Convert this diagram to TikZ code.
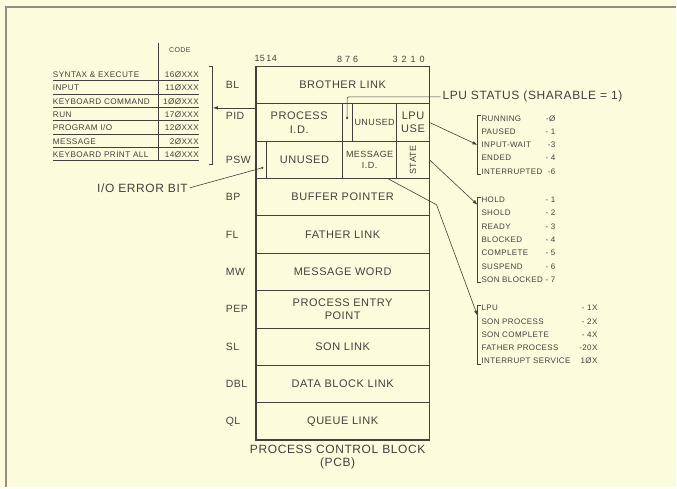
\documentclass[tikz,border=0pt]{standalone}
\usepackage{fontspec}
\setmainfont{Liberation Sans}[LetterSpace=5]
\usetikzlibrary{arrows.meta}

\definecolor{paper}{RGB}{252,252,221}
\definecolor{ink}{RGB}{70,62,60}
\definecolor{scanedge}{RGB}{150,140,128}

\begin{document}
\begin{tikzpicture}[
  x=1pt, y=-1pt,
  >={Latex[length=5pt,width=3.5pt]},
  every node/.style={text=ink, inner sep=0pt, outer sep=0pt},
  field/.style={draw=ink, line width=0.8pt, minimum width=174pt, minimum height=37.4pt, align=center, font=\fontsize{11}{13.4}\selectfont},
  cell/.style={draw=ink, line width=0.8pt, minimum height=37.4pt, align=center, font=\fontsize{11}{13.4}\selectfont},
  smallcell/.style={cell, font=\fontsize{9}{11.7}\selectfont},
  rowlabel/.style={anchor=west, font=\fontsize{10.5}{12}\selectfont},
  bits/.style={font=\fontsize{9}{10}\selectfont},
  tabrow/.style={text width=146pt, minimum height=12pt, align=left, font=\fontsize{8.2}{9}\selectfont},
  listbox/.style={anchor=west, align=left, font=\fontsize{8}{13.3}\selectfont},
  callout/.style={font=\fontsize{12}{13}\selectfont},
  dot/.style={circle, fill=ink, minimum size=2.6pt},
  rule/.style={draw=ink, line width=0.6pt},
  brace/.style={draw=ink, line width=1pt},
  arrow/.style={->, draw=ink, line width=0.6pt}
]

  % paper and scan edge
  \fill[paper] (0,0) rectangle (677,488);
  \draw[scanedge, line width=1.4pt] (6,488) -- (6,7) -- (677,7);

  % bit numbers
  \node[bits] (bitsleft)  at (266,59) {15\,14};
  \node[bits] (bitsmid)   at (348,59) {8\hspace{3pt}7\hspace{3pt}6};
  \node[bits] (bitsright) at (409,59) {3\hspace{4pt}2\hspace{4pt}1\hspace{4pt}0};

  % the control block
  \node[field] (brotherlink) at (343,85.2) {BROTHER LINK};

  \node[cell, minimum width=87pt]  (pidproc)   at (299.5,122.6) {PROCESS\\I.D.};
  \node[cell, minimum width=10pt]  (pidflag)   at (348,122.6)   {};
  \node[smallcell, minimum width=44pt] (pidunused) at (375,122.6) {UNUSED};
  \node[cell, minimum width=33pt]  (lpuuse)    at (413.5,122.6) {LPU\\USE};

  \node[cell, minimum width=10.5pt] (pswflag)   at (261.25,160) {};
  \node[cell, minimum width=76.5pt] (pswunused) at (304.75,160) {UNUSED};
  \node[smallcell, minimum width=54pt] (msgid)  at (370,160)    {MESSAGE\\I.D.};
  \node[smallcell, minimum width=33pt] (state)  at (413.5,160)  {\rotatebox{90}{STATE}};

  \node[field] (bufferptr)  at (343,197.4) {BUFFER POINTER};
  \node[field] (fatherlink) at (343,234.8) {FATHER LINK};
  \node[field] (msgword)    at (343,272.2) {MESSAGE WORD};
  \node[field] (entrypoint) at (343,309.6) {PROCESS ENTRY\\POINT};
  \node[field] (sonlink)    at (343,347)   {SON LINK};
  \node[field] (datablock)  at (343,384.4) {DATA BLOCK LINK};
  \node[field] (queuelink)  at (343,421.8) {QUEUE LINK};

  \draw[ink, line width=1.6pt] (brotherlink.north west) rectangle (queuelink.south east);

  \node[callout, align=center] (pcbcaption) at (338,458) {PROCESS CONTROL BLOCK\\(PCB)};

  % row names
  \node[rowlabel] (lblbl)  at (226,85.2)  {BL};
  \node[rowlabel] (lblpid) at (226,116)   {PID};
  \node[rowlabel] (lblpsw) at (226,160)   {PSW};
  \node[rowlabel] (lblbp)  at (226,197.4) {BP};
  \node[rowlabel] (lblfl)  at (226,234.8) {FL};
  \node[rowlabel] (lblmw)  at (226,272.2) {MW};
  \node[rowlabel] (lblpep) at (226,309.6) {PEP};
  \node[rowlabel] (lblsl)  at (226,347)   {SL};
  \node[rowlabel] (lbldbl) at (226,384.4) {DBL};
  \node[rowlabel] (lblql)  at (226,421.8) {QL};

  % flag bits
  \node[dot] (piddot) at (347.5,118) {};
  \node[dot] (pswdot) at (262.5,168) {};

  \node[callout, anchor=west, inner sep=2pt] (lpustatus) at (441,97) {LPU STATUS (SHARABLE = 1)};
  \node[callout, anchor=east, inner sep=2pt] (ioerror) at (190,188) {I/O ERROR BIT};

  \draw[rule, rounded corners=2pt] (piddot) |- (lpustatus.west);
  \draw[rule] (ioerror.east) -- (pswdot);

  % code table
  \node[font=\fontsize{7}{8}\selectfont] (codehead) at (180,50) {CODE};
  \node[tabrow] (synrow)  at (126,74.5)  {SYNTAX \& EXECUTE\hfill 16ØXXX};
  \node[tabrow] (inprow)  at (126,87.9)  {INPUT\hfill 11ØXXX};
  \node[tabrow] (kbcrow)  at (126,101.3) {KEYBOARD COMMAND\hfill 1ØØXXX};
  \node[tabrow] (runrow)  at (126,114.7) {RUN\hfill 17ØXXX};
  \node[tabrow] (progrow) at (126,128.1) {PROGRAM I/O\hfill 12ØXXX};
  \node[tabrow] (msgrow)  at (126,141.5) {MESSAGE\hfill 2ØXXX};
  \node[tabrow] (kbprow)  at (126,154.9) {KEYBOARD PRINT ALL\hfill 14ØXXX};

  \draw[rule] (synrow.south west)  -- (synrow.south east);
  \draw[rule] (inprow.south west)  -- (inprow.south east);
  \draw[rule] (kbcrow.south west)  -- (kbcrow.south east);
  \draw[rule] (runrow.south west)  -- (runrow.south east);
  \draw[rule] (progrow.south west) -- (progrow.south east);
  \draw[rule] (msgrow.south west)  -- (msgrow.south east);
  \draw[rule] (kbprow.south west)  -- (kbprow.south east);
  \draw[rule] (158,43) -- (158,161);

  \coordinate (codetop) at (213,67);
  \coordinate (codebot) at (213,165);
  \coordinate (codetip) at (213,108);
  \coordinate (pidtap)  at (256,108);
  \draw[brace] ([xshift=-4pt]codetop) -- (codetop) -- (codebot) -- ([xshift=-4pt]codebot);
  \draw[arrow] (pidtap) -- (codetip);

  % value lists
  \node[listbox] (lpulist) at (482,145) {%
    \makebox[74pt][l]{RUNNING\hfill -Ø}\\
    \makebox[74pt][l]{PAUSED\hfill - 1}\\
    \makebox[74pt][l]{INPUT-WAIT\hfill -3}\\
    \makebox[74pt][l]{ENDED\hfill - 4}\\
    \makebox[74pt][l]{INTERRUPTED\hfill -6}};
  \node[listbox] (statelist) at (482,240) {%
    \makebox[74pt][l]{HOLD\hfill - 1}\\
    \makebox[74pt][l]{SHOLD\hfill - 2}\\
    \makebox[74pt][l]{READY\hfill - 3}\\
    \makebox[74pt][l]{BLOCKED\hfill - 4}\\
    \makebox[74pt][l]{COMPLETE\hfill - 5}\\
    \makebox[74pt][l]{SUSPEND\hfill - 6}\\
    \makebox[74pt][l]{SON BLOCKED\hfill - 7}};
  \node[listbox] (msglist) at (482,335) {%
    \makebox[116pt][l]{LPU\hfill - 1X}\\
    \makebox[116pt][l]{SON PROCESS\hfill - 2X}\\
    \makebox[116pt][l]{SON COMPLETE\hfill - 4X}\\
    \makebox[116pt][l]{FATHER PROCESS\hfill -20X}\\
    \makebox[116pt][l]{INTERRUPT SERVICE\hfill 1ØX}};

  \draw[brace] ([xshift=-1pt]lpulist.north west) -- ++(-3,0) |- ([xshift=-1pt]lpulist.south west);
  \draw[brace] ([xshift=-1pt]statelist.north west) -- ++(-3,0) |- ([xshift=-1pt]statelist.south west);
  \draw[brace] ([xshift=-1pt]msglist.north west) -- ++(-3,0) |- ([xshift=-1pt]msglist.south west);

  \coordinate (statetip) at (478,205);
  \coordinate (msgbend)  at (437,205);
  \coordinate (msgtip)   at (478,316);

  \draw[arrow] (lpuuse.east) -- ([xshift=-4pt]lpulist.west);
  \draw[arrow] (state.east) -- (statetip);
  \draw[arrow] ([xshift=-9pt]msgid.south east) -- (msgbend) -- (msgtip);
\end{tikzpicture}
\end{document}
